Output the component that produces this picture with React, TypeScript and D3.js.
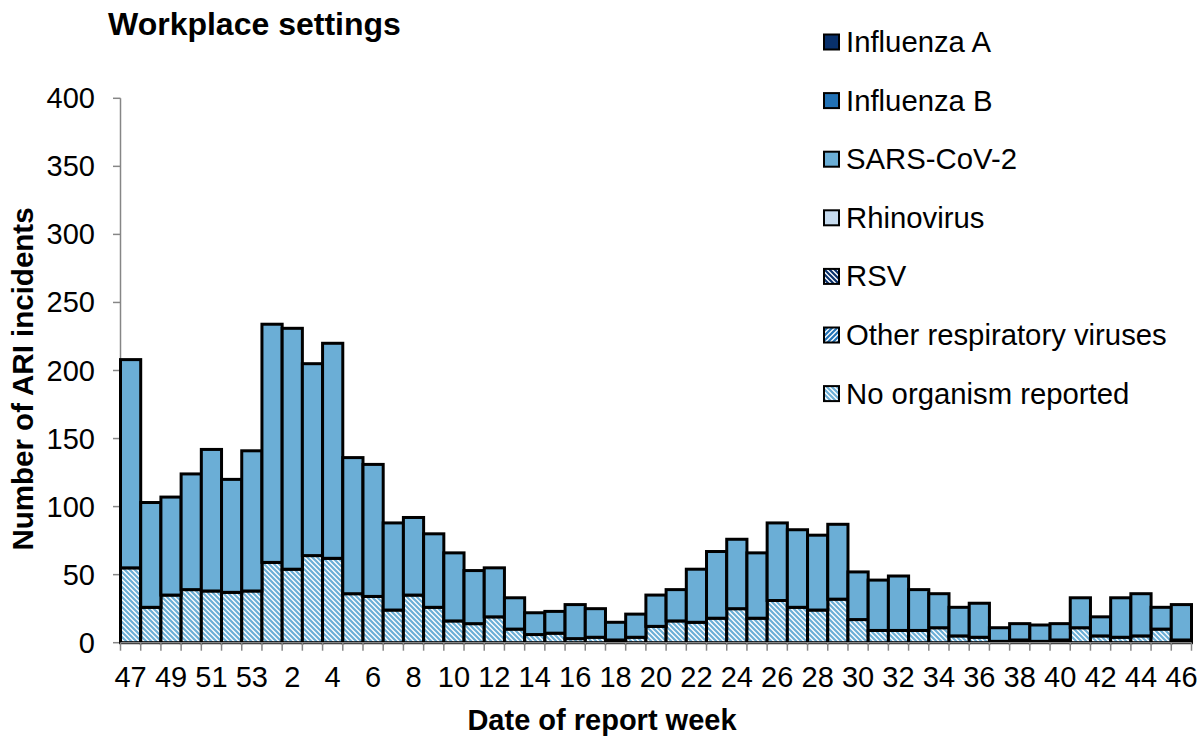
import React from 'react';
import * as d3 from 'd3';

const weeks = ['47','48','49','50','51','52','53','1','2','3','4','5','6','7','8','9','10','11','12','13','14','15','16','17','18','19','20','21','22','23','24','25','26','27','28','29','30','31','32','33','34','35','36','37','38','39','40','41','42','43','44','45','46'];

const noOrganism = [55,26,35,39,38,37,38,59,54,64,62,36,34,24,35,26,16,14,19,10,6,7,3,4,2,4,12,16,15,18,25,18,31,26,24,32,17,9,9,9,11,5,4,1,2,1,2,11,5,4,5,10,2];

const sarsCov2 = [153,77,72,85,104,83,103,175,177,141,158,100,97,64,57,54,50,39,36,23,16,16,25,21,13,17,23,23,39,49,51,48,57,57,55,55,35,37,40,30,25,21,25,10,12,12,12,22,14,29,31,16,26];

const legendItems = ['Influenza A','Influenza B','SARS-CoV-2','Rhinovirus','RSV','Other respiratory viruses','No organism reported'];
const legendFills = ['#08306b','#2171b5','#6baed6','#c6dbef','url(#patRSV)','url(#patOther)','url(#patNoOrg)'];

const yTicks = [0,50,100,150,200,250,300,350,400];

const FONT = 'Liberation Sans, Arial, sans-serif';

export default function App() {
  const W = 1200, H = 736;
  const left = 120.5, right = 1191.5, top = 98.3, bottom = 642.7;

  const x = d3.scaleBand<string>().domain(weeks).range([left, right]).padding(0);
  const y = d3.scaleLinear().domain([0, 400]).range([bottom, top]);

  const rows = weeks.map((w, i) => ({ week: w, noOrg: noOrganism[i], sars: sarsCov2[i] }));
  const stack = d3.stack<any>().keys(['noOrg', 'sars'])(rows);
  const fills: Record<string, string> = { noOrg: 'url(#patNoOrg)', sars: '#6baed6' };

  const bw = x.bandwidth();
  const boundaries = d3.range(weeks.length + 1).map(i => left + i * bw);

  const legendY0 = 42, legendStep = 58.6;

  return (
    <svg width={W} height={H} style={{ position: 'absolute', left: 0, top: 0, background: '#fff' }} fontFamily={FONT}>
      <defs>
        <pattern id="patNoOrg" patternUnits="userSpaceOnUse" width="5" height="5">
          <rect width="5" height="5" fill="#ffffff" />
          <path d="M-1,-1 L6,6 M-1,4 L1,6 M4,-1 L6,1" stroke="#6baed6" strokeWidth="2.2" />
        </pattern>
        <pattern id="patOther" patternUnits="userSpaceOnUse" width="5" height="5">
          <rect width="5" height="5" fill="#ffffff" />
          <path d="M-1,6 L6,-1 M-1,1 L1,-1 M4,6 L6,4" stroke="#2171b5" strokeWidth="2.2" />
        </pattern>
        <pattern id="patRSV" patternUnits="userSpaceOnUse" width="5" height="5">
          <rect width="5" height="5" fill="#ffffff" />
          <path d="M-1,-1 L6,6 M-1,4 L1,6 M4,-1 L6,1" stroke="#08306b" strokeWidth="2.2" />
        </pattern>
      </defs>

      <rect x={0} y={0} width={W} height={H} fill="#fff" />

      <text x={108} y={35} fontSize={32} fontWeight="bold" fill="#000">Workplace settings</text>

      {/* y axis */}
      <line x1={left} x2={left} y1={top} y2={bottom} stroke="#868686" strokeWidth={1.5} />
      {yTicks.map(t => (
        <g key={t}>
          <line x1={113} x2={left} y1={y(t)} y2={y(t)} stroke="#868686" strokeWidth={1.5} />
          <text x={95} y={y(t) + 10} textAnchor="end" fontSize={29} fill="#000">{t}</text>
        </g>
      ))}

      {/* bars */}
      {stack.map(s => (
        <g key={s.key}>
          {s.map((d, i) => (
            d[1] - d[0] > 0 ? (
              <rect key={i} x={x(weeks[i])} y={y(d[1])} width={bw} height={y(d[0]) - y(d[1])}
                fill={fills[s.key]} stroke="#000" strokeWidth={3} />
            ) : null
          ))}
        </g>
      ))}

      {/* x axis */}
      <line x1={left} x2={right} y1={bottom} y2={bottom} stroke="#868686" strokeWidth={1.5} />
      {boundaries.map((b, i) => (
        <line key={i} x1={b} x2={b} y1={bottom} y2={bottom + 8} stroke="#868686" strokeWidth={1.5} />
      ))}
      {weeks.map((w, i) => i % 2 === 0 ? (
        <text key={w} x={(x(w) as number) + bw / 2} y={687} textAnchor="middle" fontSize={29} fill="#000">{w}</text>
      ) : null)}

      <text x={602} y={730} textAnchor="middle" fontSize={29} fontWeight="bold" fill="#000">Date of report week</text>
      <text transform={`translate(33,379) rotate(-90)`} textAnchor="middle" fontSize={29.5} fontWeight="bold" fill="#000">Number of ARI incidents</text>

      {/* legend */}
      {legendItems.map((name, i) => {
        const cy = legendY0 + i * legendStep;
        return (
          <g key={name}>
            <rect x={824} y={cy - 7.5} width={15} height={15} fill={legendFills[i]} stroke="#000" strokeWidth={2} />
            <text x={846} y={cy + 10} fontSize={29.3} fill="#000">{name}</text>
          </g>
        );
      })}
    </svg>
  );
}
